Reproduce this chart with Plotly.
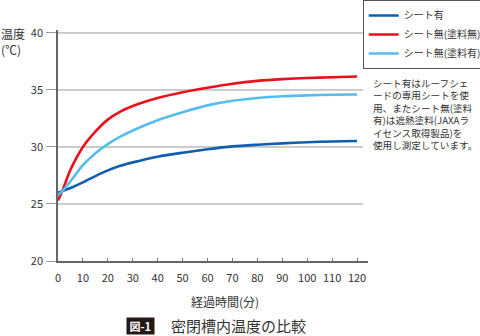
import plotly.graph_objects as go

# ---- data ----
minutes = [0, 2, 5, 10, 15, 20, 25, 30, 40, 50, 60, 70, 80, 90, 100, 110, 120]
sheet_on = [26.0, 26.15, 26.4, 26.9, 27.45, 27.95, 28.35, 28.65, 29.15, 29.5, 29.8, 30.05, 30.2, 30.32, 30.42, 30.48, 30.52]
sheet_off_nopaint = [25.3, 26.3, 28.0, 30.0, 31.35, 32.4, 33.1, 33.6, 34.3, 34.8, 35.2, 35.55, 35.8, 35.95, 36.05, 36.12, 36.18]
sheet_off_paint = [25.75, 26.2, 27.0, 28.4, 29.45, 30.25, 30.9, 31.45, 32.35, 33.05, 33.65, 34.05, 34.3, 34.45, 34.53, 34.58, 34.6]

series_names = ["シート有", "シート無(塗料無)", "シート無(塗料有)"]
series_colors = ["#0f5fb0", "#e8121e", "#55bdee"]
y_ticks = [20, 25, 30, 35, 40]
x_ticks = list(range(0, 121, 10))
note_lines = ["シート有はルーフシェ", "ードの専用シートを使", "用、またシート無(塗料",
              "有)は遮熱塗料(JAXAラ", "イセンス取得製品)を", "使用し測定しています。"]

FONT = "Noto Sans CJK JP"

fig = go.Figure()
for name, ys, col in zip(series_names, [sheet_on, sheet_off_nopaint, sheet_off_paint], series_colors):
    fig.add_trace(go.Scatter(x=minutes, y=ys, name=name, mode="lines",
                             line=dict(color=col, width=2.6, shape="spline", smoothing=0.8)))

# horizontal gridlines (extend slightly past the plot, to the legend)
for yv in y_ticks[1:]:
    fig.add_shape(type="line", xref="paper", yref="y", x0=0, x1=0.984, y0=yv, y1=yv,
                  line=dict(color="#9a9a9a", width=1), layer="below")

fig.update_layout(
    width=480, height=336,
    margin=dict(l=58, r=112, t=30, b=75, autoexpand=False),
    paper_bgcolor="white", plot_bgcolor="white",
    font=dict(family=FONT, color="#333333", size=11),
    showlegend=True,
    legend=dict(x=0.983, xanchor="left", y=1.13, yanchor="top",
                bordercolor="#555555", borderwidth=1, bgcolor="white",
                font=dict(size=10, family=FONT, color="#333333"),
                itemwidth=30, tracegroupgap=0),
    xaxis=dict(range=[0, 124.4], tickvals=x_ticks, ticks="inside", ticklen=3,
               tickcolor="#777777", showgrid=False, zeroline=False,
               showline=True, linecolor="#666666", linewidth=1.5,
               tickfont=dict(size=11, family=FONT, color="#333333"),
               ticklabelstandoff=6),
    yaxis=dict(range=[20, 40.26], tickvals=y_ticks, ticks="outside", ticklen=10,
               tickcolor="#9a9a9a", showgrid=False, zeroline=False,
               showline=True, linecolor="#666666", linewidth=1.5,
               tickfont=dict(size=11, family=FONT, color="#333333"),
               ticklabelstandoff=1),
)

ann = []
# y-axis title
ann.append(dict(text="温度", xref="paper", yref="paper", x=-0.1, y=(261-33)/231,
                xanchor="right", yanchor="middle", showarrow=False,
                font=dict(size=12, family=FONT, color="#333333")))
ann.append(dict(text="(℃)", xref="paper", yref="paper", x=-0.113, y=(261-49)/231,
                xanchor="right", yanchor="middle", showarrow=False,
                font=dict(size=12, family=FONT, color="#333333")))
# x-axis title
ann.append(dict(text="経過時間(分)", xref="paper", yref="paper", x=(225-58)/310, y=(261-301)/231,
                xanchor="center", yanchor="middle", showarrow=False,
                font=dict(size=12, family=FONT, color="#333333")))
# caption
ann.append(dict(text="<b> 図-1 </b>", xref="paper", yref="paper", x=(140-58)/310, y=(261-325.5)/231,
                xanchor="center", yanchor="middle", showarrow=False, bgcolor="#231815",
                borderpad=0, font=dict(size=11, family=FONT, color="white")))
ann.append(dict(text="密閉槽内温度の比較", xref="paper", yref="paper", x=(169-58)/310, y=(261-325)/231,
                xanchor="left", yanchor="middle", showarrow=False,
                font=dict(size=15, family=FONT, color="#333333")))
# note (single multi-line block)
ann.append(dict(text="<br>".join(note_lines), xref="paper", yref="paper", x=(371-58)/310,
                y=(261-74)/231, xanchor="left", yanchor="top", align="left", showarrow=False,
                font=dict(size=9.6, family=FONT, color="#333333")))
fig.update_layout(annotations=ann)

fig.write_html("out.html")
